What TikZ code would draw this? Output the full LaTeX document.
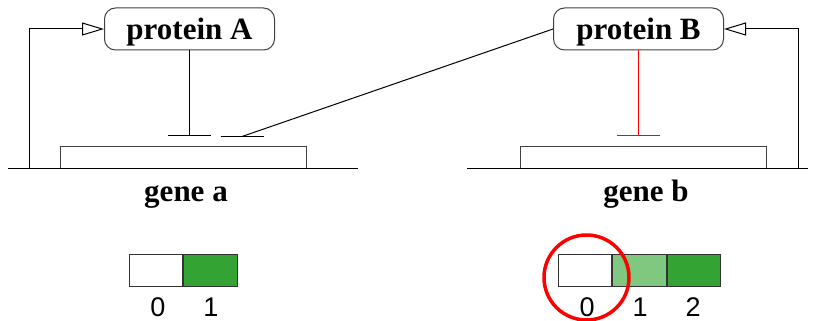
\documentclass[tikz,border=0pt]{standalone}
\usepackage{fontspec}
\setmainfont{Liberation Serif}
\newfontfamily\digitfont{Liberation Sans}
\usetikzlibrary{arrows.meta}

\definecolor{darkgrn}{RGB}{51,163,51}
\definecolor{lightgrn}{RGB}{128,200,128}

\begin{document}
\begin{tikzpicture}[
  x=1pt, y=-1pt,
  line width=1pt,
  protein/.style={rectangle, rounded corners=11pt, draw=black!75, minimum width=170pt, minimum height=42pt, inner sep=0pt, text height=28pt, text depth=6pt, font=\fontsize{31}{32}\selectfont\bfseries},
  genebox/.style={rectangle, draw=black!75, minimum width=246pt, minimum height=22pt, inner sep=0pt},
  genelabel/.style={font=\fontsize{31}{32}\selectfont\bfseries, inner sep=0pt, anchor=base},
  opbar/.style={rectangle, minimum width=42pt, minimum height=0pt, inner sep=0pt},
  cell/.style={rectangle, draw=black!80, minimum width=53.5pt, minimum height=32pt, inner sep=0pt},
  digit/.style={font=\digitfont\fontsize{27}{28}\selectfont, inner sep=0pt, anchor=base},
  activate/.style={-{Triangle[open, length=22pt, width=13pt]}},
]
  \useasboundingbox (0,0) rectangle (816,321);

  % proteins
  \node[protein] (protA) at (189.5,29) {protein A};
  \node[protein] (protB) at (638.5,29) {protein B};

  % genes on the strands
  \coordinate (strandaL) at (8,168.5);
  \coordinate (strandaR) at (358,168.5);
  \coordinate (strandbL) at (467,168.5);
  \coordinate (strandbR) at (808,168.5);
  \node[genebox, anchor=south west] (genea) at (60,168.5) {};
  \node[genebox, anchor=south west] (geneb) at (520,168.5) {};
  \draw (strandaL) -- (strandaR);
  \draw (strandbL) -- (strandbR);
  \node[genelabel] (labela) at (186,201) {gene a};
  \node[genelabel] (labelb) at (646,201) {gene b};

  % operator sites
  \node[opbar] (opa1) at (189.5,135.5) {};
  \node[opbar] (opa2) at (242,136.5) {};
  \node[opbar] (opb) at (638.5,135.5) {};
  \draw (opa1.west) -- (opa1.east);
  \draw (opa2.west) -- (opa2.east);
  \draw[red] (opb.west) -- (opb.east);

  % repression
  \draw (protA.south) -- (opa1.center);
  \draw (protB.west) -- (opa2.center);
  \draw[red] (protB.south) -- (opb.center);

  % self activation
  \coordinate (fbA) at (29.5,168.5);
  \coordinate (fbB) at (798.5,168.5);
  \draw[activate] (fbA) |- (protA.west);
  \draw[activate] (fbB) |- (protB.east);

  % expression levels
  \node[cell, fill=white] (a0) at (156,270) {};
  \node[cell, fill=darkgrn, anchor=west] (a1) at (a0.east) {};
  \node[digit] (la0) at (158,316) {0};
  \node[digit] (la1) at (211,316) {1};

  \node[cell, fill=white] (b0) at (585,270) {};
  \node[cell, fill=lightgrn, anchor=west] (b1) at (b0.east) {};
  \node[cell, fill=darkgrn, anchor=west] (b2) at (b1.east) {};
  \node[digit] (lb0) at (587,316) {0};
  \node[digit] (lb1) at (640,316) {1};
  \node[digit] (lb2) at (693,316) {2};

  \draw[red, line width=3.5pt] (586.5,277.5) circle[radius=42.5pt];
\end{tikzpicture}
\end{document}
